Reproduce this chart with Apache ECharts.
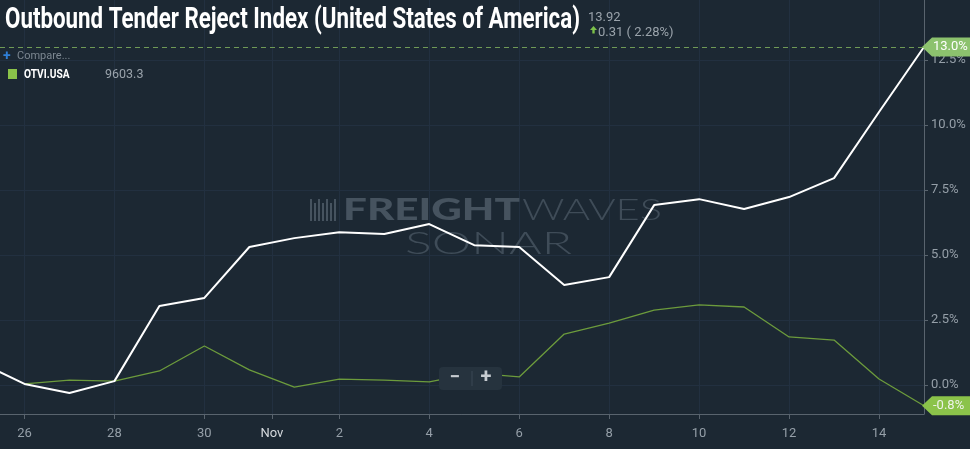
<!DOCTYPE html>
<html><head><meta charset="utf-8">
<script src="https://cdn.jsdelivr.net/npm/echarts@6/dist/echarts.min.js"></script>
<style>html,body{margin:0;padding:0;background:#1c2833;}#c{width:970px;height:449px;}</style>
</head><body><div id="c"></div>
<script>
// Day index 0 = Oct 26 ... 20 = Nov 15
const days = ['Oct 25','Oct 26','Oct 27','Oct 28','Oct 29','Oct 30','Oct 31','Nov 1','Nov 2','Nov 3','Nov 4','Nov 5','Nov 6','Nov 7','Nov 8','Nov 9','Nov 10','Nov 11','Nov 12','Nov 13','Nov 14','Nov 15'];
const dayIndex = [-1,0,1,2,3,4,5,6,7,8,9,10,11,12,13,14,15,16,17,18,19,20];
const otriValues = [0.88,0.04,-0.31,0.15,3.04,3.35,5.31,5.65,5.88,5.81,6.19,5.38,5.31,3.85,4.15,6.92,7.15,6.77,7.23,7.96,10.5,13.0];
const otviValues = [null,0.04,0.19,0.15,0.54,1.5,0.58,-0.08,0.23,0.19,0.12,0.46,0.31,1.96,2.38,2.88,3.08,3.0,1.85,1.73,0.23,-0.8];
const xTickValues = [0,2,4,5.5,7,9,11,13,15,17,19];
const xTickLabels = ['26','28','30','Nov','2','4','6','8','10','12','14'];
const yTickValues = [0,2.5,5,7.5,10,12.5];

const titleText = 'Outbound Tender Reject Index (United States of America)';

const chart = echarts.init(document.getElementById('c'), null, {renderer:'canvas'});
const white = dayIndex.map((d,i)=>[d, otriValues[i]]);
const green = dayIndex.map((d,i)=>otviValues[i]==null?null:[d, otviValues[i]]).filter(p=>p);

const gridCol = '#223040';
const axisCol = '#59646e';
const labCol = '#959fa8';

chart.setOption({
  backgroundColor:'#1c2833',
  animation:false,
  grid:{left:0,right:46,top:0,bottom:35,containLabel:false},
  xAxis:{type:'value',min:-0.544,max:20,
    axisLine:{show:true,onZero:false,lineStyle:{color:axisCol,width:1}},
    axisTick:{show:true,customValues:xTickValues,length:5,lineStyle:{color:axisCol}},
    axisLabel:{show:true,customValues:xTickValues,margin:13,fontFamily:'Roboto',fontSize:13,
      formatter:function(v){const i=xTickValues.indexOf(v);return i<0?'':(xTickLabels[i]==='Nov'?'{m|Nov}':xTickLabels[i]);},
      color:labCol,rich:{m:{color:'#d5d9dd',fontFamily:'Roboto',fontSize:13}}},
    splitLine:{show:true,lineStyle:{color:gridCol,width:1}}
  },
  yAxis:{type:'value',position:'right',min:-1.115,max:14.81,
    axisLine:{show:true,onZero:false,lineStyle:{color:axisCol,width:1}},
    axisTick:{show:true,customValues:yTickValues,length:4,lineStyle:{color:axisCol}},
    axisLabel:{show:true,customValues:yTickValues,margin:7,fontFamily:'Roboto',fontSize:13,color:labCol,
      formatter:function(v){return v.toFixed(1)+'%';}},
    splitLine:{show:true,lineStyle:{color:gridCol,width:1}}
  },
  series:[
    {name:'OTVI.USA',type:'line',data:green,symbol:'none',clip:true,z:3,
      lineStyle:{color:'#6c9b3c',width:1.3}},
    {name:'OTRI.USA',type:'line',data:white,symbol:'none',clip:true,z:4,
      lineStyle:{color:'#ffffff',width:2},
      markLine:{silent:true,symbol:'none',label:{show:false},
        lineStyle:{color:'#6f9a56',type:[5,4],width:1},
        data:[{yAxis:otriValues[otriValues.length-1]}]}}
  ]
});

function measure(text, font){
  const c=document.createElement('canvas').getContext('2d');
  c.font=font; return c.measureText(text).width;
}
const titleFont='bold 29px Roboto';
const titleScale = 575/measure(titleText,titleFont);
const fwFont='900 30px Lato';
const fwScale = 177/measure('FREIGHT',fwFont);
const wvFont='300 30px Lato';
const wvScale = 140/measure('WAVES',wvFont);
const snFont='300 31px Lato';
const snScale = 167/measure('SONAR',snFont);

const lastW = chart.convertToPixel({gridIndex:0},[dayIndex[dayIndex.length-1], otriValues[otriValues.length-1]]);
const lastG = chart.convertToPixel({gridIndex:0},[dayIndex[dayIndex.length-1], otviValues[otviValues.length-1]]);

function tag(p, txt, fill, tcol){
  const x=p[0]-2, y=p[1], h=9.5;
  return [
    {type:'polygon',z:50,shape:{points:[[x,y],[x+10,y-h],[970,y-h],[970,y+h],[x+10,y+h]]},style:{fill:fill}},
    {type:'text',z:51,x:x+11,y:y,style:{text:txt,font:'13px Roboto',fill:tcol,verticalAlign:'middle',align:'left'}}
  ];
}

const icon=[];
[0,4,8,12,16,20,24].forEach((dx,i)=>{
  icon.push({type:'rect',z:1,shape:{x:310+dx,y:199+(i%2?4:0),width:2,height:i%2?18:22},style:{fill:'#46535f'}});
});

chart.setOption({graphic:[
  {type:'text',z:60,x:5,y:21,scaleX:titleScale,style:{text:titleText,font:titleFont,fill:'#ffffff',verticalAlign:'middle',align:'left'}},
  {type:'text',z:60,x:588,y:18,style:{text:'13.92',font:'13px Roboto',fill:'#9aa3ab',verticalAlign:'middle'}},
  {type:'polygon',z:60,shape:{points:[[590,30],[593.5,26],[597,30]]},style:{fill:'#7cc04a'}},
  {type:'rect',z:60,shape:{x:592.3,y:29.5,width:2.4,height:4},style:{fill:'#7cc04a'}},
  {type:'text',z:60,x:598,y:33,style:{text:'0.31 ( 2.28%)',font:'13px Roboto',fill:'#9aa3ab',verticalAlign:'middle'}},
  {type:'text',z:60,x:3,y:56,style:{text:'+',font:'bold 14px Roboto',fill:'#2f7fd6',verticalAlign:'middle'}},
  {type:'text',z:60,x:17,y:56.5,style:{text:'Compare...',font:'11px Roboto',fill:'#7c8791',verticalAlign:'middle'}},
  {type:'rect',z:60,shape:{x:8,y:69,width:9,height:10},style:{fill:'#8bc34a'}},
  {type:'text',z:60,x:24,y:75,scaleX:0.85,style:{text:'OTVI.USA',font:'bold 12px Roboto',fill:'#ffffff',verticalAlign:'middle'}},
  {type:'text',z:60,x:105,y:75,style:{text:'9603.3',font:'12.5px Roboto',fill:'#9aa3ab',verticalAlign:'middle'}},
  ...icon,
  {type:'text',z:1,x:343,y:210,scaleX:fwScale,style:{text:'FREIGHT',font:fwFont,fill:'#46535f',verticalAlign:'middle'}},
  {type:'text',z:1,x:522,y:210,scaleX:wvScale,style:{text:'WAVES',font:wvFont,fill:'#3f4c58',verticalAlign:'middle'}},
  {type:'text',z:1,x:405,y:244,scaleX:snScale,style:{text:'SONAR',font:snFont,fill:'#3f4c58',verticalAlign:'middle'}},
  {type:'rect',z:60,shape:{x:439,y:367,width:63,height:23,r:4},style:{fill:'#26333e'}},
  {type:'text',z:61,x:455,y:378,style:{text:'−',font:'bold 19px Roboto',fill:'#c7ccd1',align:'center',verticalAlign:'middle'}},
  {type:'line',z:61,shape:{x1:472,y1:371,x2:472,y2:386},style:{stroke:'#3b4955',lineWidth:1}},
  {type:'text',z:61,x:486,y:378,style:{text:'+',font:'bold 20px Roboto',fill:'#c7ccd1',align:'center',verticalAlign:'middle'}},
  ...tag(lastW, otriValues[otriValues.length-1].toFixed(1)+'%', '#8cc26e', '#ffffff'),
  ...tag(lastG, otviValues[otviValues.length-1].toFixed(1)+'%', '#8bc34a', '#eef2ea')
]});
</script></body></html>
